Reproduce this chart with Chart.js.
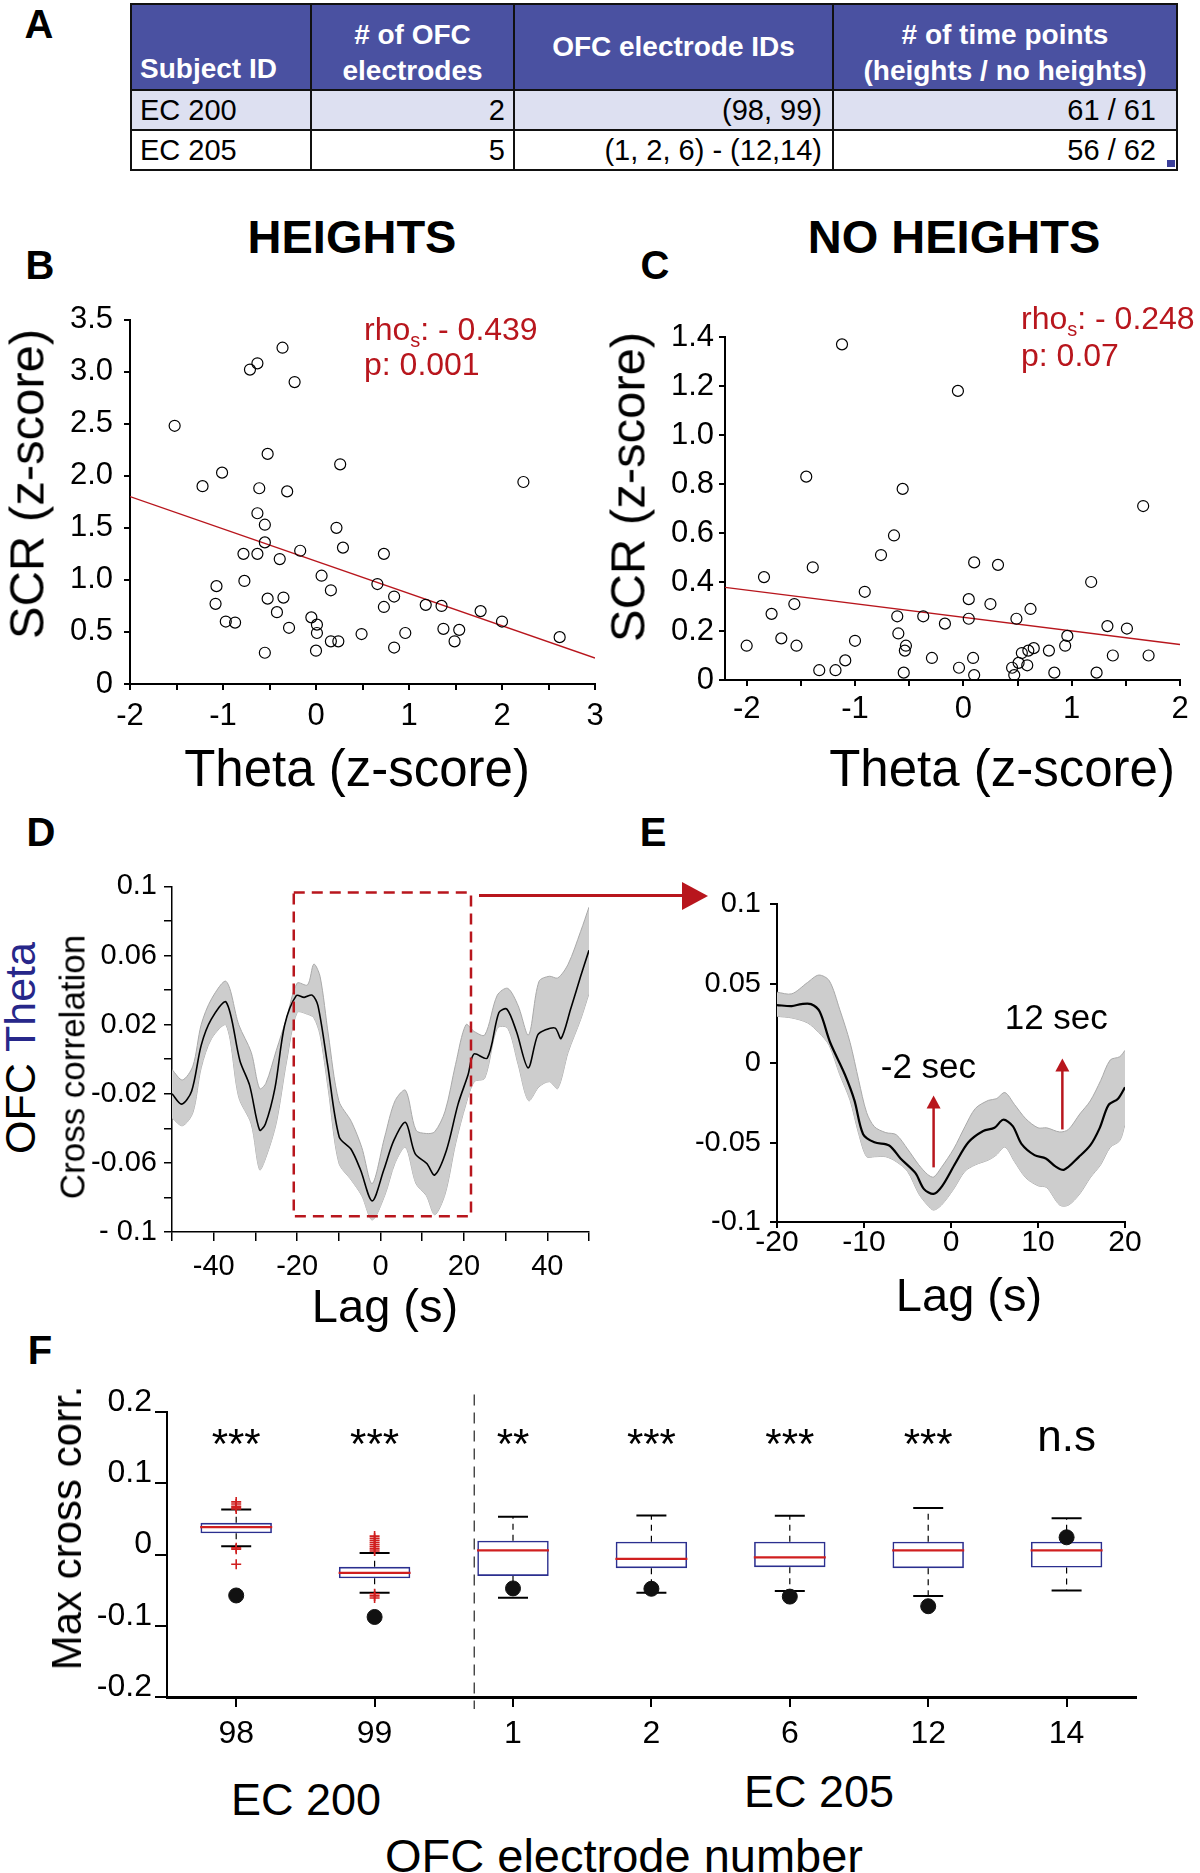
<!DOCTYPE html>
<html>
<head>
<meta charset="utf-8">
<title>OFC theta vs SCR</title>
<script src="https://cdn.jsdelivr.net/npm/chart.js@4.4.1/dist/chart.umd.min.js"></script>
<style>
  body { margin: 0; background: #fff; font-family: "Liberation Sans", Arial, Helvetica, sans-serif; color: #000; }
  #page { position: relative; width: 1200px; height: 1873px; overflow: hidden; }
  .panel { position: absolute; }
  .txt { position: absolute; white-space: nowrap; transform: translate(-50%, -50%); line-height: 1; }
  .txt.left { transform: translate(0, -50%); }
  .txt.vert { transform: translate(-50%, -50%) rotate(-90deg); }
  .letter { font-weight: bold; font-size: 40px; }
  .head { font-weight: bold; font-size: 47px; }
  .stat { color: #b8161d; font-size: 32px; }
  .stat sub { font-size: 20px; vertical-align: -7px; line-height: 0; }
  #tbl { position: absolute; left: 130px; top: 3px; width: 1046px; border-collapse: collapse; table-layout: fixed; font-size: 29px; }
  #tbl th, #tbl td { border: 2px solid #111; padding: 0 8px; overflow: hidden; white-space: nowrap; }
  #tbl th { background: #4a51a1; color: #fff; font-weight: bold; font-size: 28px; line-height: 36px; height: 68px; padding-top: 12px; text-align: center; }
  #tbl td { height: 38px; text-align: right; }
  #tbl tr.r1 td { background: #dde0f1; }
  #tbl td.sid { text-align: left; }
</style>
</head>
<body>
<div id="page">

  <table id="tbl">
    <colgroup><col style="width:180px"><col style="width:203px"><col style="width:319px"><col style="width:344px"></colgroup>
    <tr>
      <th style="text-align:left;vertical-align:bottom;padding-bottom:2px">Subject ID</th>
      <th>#&nbsp;of OFC<br>electrodes</th>
      <th style="padding-top:0;vertical-align:middle">OFC electrode IDs</th>
      <th># of time points<br>(heights / no heights)</th>
    </tr>
    <tr class="r1"><td class="sid">EC 200</td><td>2</td><td style="padding-right:10px">(98, 99)</td><td style="padding-right:20px">61 / 61</td></tr>
    <tr><td class="sid">EC 205</td><td>5</td><td style="padding-right:10px">(1, 2, 6) - (12,14)</td><td style="padding-right:20px">56 / 62</td></tr>
  </table>
  <div class="panel" style="left:1167px;top:160px;width:8px;height:7px;background:#3b3f9a"></div>

  <div class="panel" id="pB"><canvas id="cB"></canvas></div>
  <div class="panel" id="pC"><canvas id="cC"></canvas></div>
  <div class="panel" id="pD"><canvas id="cD"></canvas></div>
  <div class="panel" id="pE"><canvas id="cE"></canvas></div>
  <div class="panel" id="pF"><canvas id="cF"></canvas></div>

  <div class="txt letter" style="left:39px;top:24px">A</div>
  <div class="txt letter" style="left:40px;top:265px">B</div>
  <div class="txt letter" style="left:655px;top:265px">C</div>
  <div class="txt letter" style="left:41px;top:832px">D</div>
  <div class="txt letter" style="left:653px;top:832px">E</div>
  <div class="txt letter" style="left:40px;top:1350px">F</div>

  <div class="txt head" style="left:352px;top:236px">HEIGHTS</div>
  <div class="txt head" style="left:954px;top:236px">NO HEIGHTS</div>

  <div class="txt left stat" style="left:364px;top:329px">rho<sub>s</sub>: - 0.439</div>
  <div class="txt left stat" style="left:364px;top:364px">p: 0.001</div>
  <div class="txt left stat" style="left:1021px;top:318px">rho<sub>s</sub>: - 0.248</div>
  <div class="txt left stat" style="left:1021px;top:355px">p: 0.07</div>

  <div class="txt vert" style="left:27px;top:484px;font-size:49px">SCR (z-score)</div>
  <div class="txt vert" style="left:628px;top:487px;font-size:49px">SCR (z-score)</div>
  <div class="txt" style="left:357px;top:768px;font-size:51px">Theta (z-score)</div>
  <div class="txt" style="left:1002px;top:768px;font-size:51px">Theta (z-score)</div>

  <div class="txt vert" style="left:20px;top:1048px;font-size:43px">OFC <span style="color:#27278a">Theta</span></div>
  <div class="txt vert" style="left:72px;top:1067px;font-size:35px">Cross correlation</div>
  <div class="txt" style="left:385px;top:1305px;font-size:47px">Lag (s)</div>
  <div class="txt" style="left:969px;top:1294px;font-size:47px">Lag (s)</div>

  <div class="panel" style="left:479px;top:894px;width:205px;height:3px;background:#b8161d"></div>
  <div class="panel" style="left:682px;top:882px;width:0;height:0;border-left:26px solid #b8161d;border-top:14px solid transparent;border-bottom:14px solid transparent"></div>

  <div class="txt vert" style="left:67px;top:1528px;font-size:42px">Max cross corr.</div>
  <div class="txt" style="left:306px;top:1799px;font-size:45px">EC 200</div>
  <div class="txt" style="left:819px;top:1791px;font-size:45px">EC 205</div>
  <div class="txt" style="left:624px;top:1855px;font-size:47px">OFC electrode number</div>
</div>

<script>
// --- B: heights (theta vs SCR) ---
const heightsTheta = [-1.52, -0.71, -0.63, -0.36, -0.23, -1.01, -1.22, -0.52, -0.61, -0.31, 0.26, 2.23, -0.63, -0.55, -0.55, -0.78, -0.63, -0.39, -0.17, 0.22, 0.29, 0.73, -0.77, -1.07, 0.06, 0.16, 0.66, -1.08, -0.52, -0.35, 0.84, 1.18, 1.35, 0.73, -0.42, 1.77, -0.97, -0.87, -0.05, 0.01, 2.00, -0.29, 0.01, 0.49, 0.96, 1.37, 1.54, 0.16, 0.24, 1.49, 2.62, -0.55, 0.00, 0.84];
const heightsSCR = [2.48, 3.02, 3.08, 3.23, 2.90, 2.03, 1.90, 2.21, 1.88, 1.85, 2.11, 1.94, 1.64, 1.53, 1.36, 1.25, 1.25, 1.20, 1.28, 1.50, 1.31, 1.25, 0.99, 0.94, 1.04, 0.90, 0.96, 0.77, 0.82, 0.83, 0.84, 0.76, 0.75, 0.74, 0.69, 0.70, 0.60, 0.59, 0.64, 0.57, 0.60, 0.54, 0.49, 0.48, 0.49, 0.53, 0.52, 0.41, 0.41, 0.41, 0.45, 0.30, 0.32, 0.35];
const heightsFitX = [-2, 3];
const heightsFitY = [1.80, 0.25];

// --- C: no heights ---
const noHeightsTheta = [-1.12, -0.05, -1.45, -0.56, 1.66, -0.64, -0.76, 0.10, 0.32, -1.39, -1.84, 1.18, -0.91, 0.05, 0.25, -1.56, 0.62, -1.77, -0.61, -0.37, 0.05, 0.49, -0.17, 1.33, 1.51, 0.96, -0.60, -1.68, -1.00, -2.00, -1.54, -0.53, -0.54, 0.94, 0.65, 0.60, 0.54, 0.79, 1.38, 1.71, -0.29, 0.09, -1.09, -1.18, -1.33, -0.04, 0.51, 0.45, 0.59, -0.55, 0.10, 0.47, 0.84, 1.23];
const noHeightsSCR = [1.37, 1.18, 0.83, 0.78, 0.71, 0.59, 0.51, 0.48, 0.47, 0.46, 0.42, 0.40, 0.36, 0.33, 0.31, 0.31, 0.29, 0.27, 0.26, 0.26, 0.25, 0.25, 0.23, 0.22, 0.21, 0.18, 0.19, 0.17, 0.16, 0.14, 0.14, 0.14, 0.12, 0.14, 0.13, 0.12, 0.11, 0.12, 0.10, 0.10, 0.09, 0.09, 0.08, 0.04, 0.04, 0.05, 0.07, 0.05, 0.06, 0.03, 0.02, 0.02, 0.03, 0.03];
const noHeightsFitX = [-2.2, 2];
const noHeightsFitY = [0.378, 0.145];

// --- D: full cross correlation, mean and SEM band ---
const lagD = [-50, -47.7, -45.3, -43, -40.6, -37, -33.7, -31.4, -29, -27.6, -25.3, -23, -20.2, -18.3, -16.4, -15, -12.7, -9.9, -7.1, -4.8, -2, 0.8, 3.2, 6, 8.3, 11.1, 13, 15.8, 18.6, 21, 22.4, 25.6, 28.4, 30.3, 32.6, 35.4, 37.7, 39.6, 41.9, 43.3, 45.6, 48, 50];
const xcorrD = [-0.020, -0.026, -0.0185, 0.008, 0.023, 0.033, -0.001, -0.015, -0.041, -0.0375, -0.0166, 0.0196, 0.0368, 0.0358, 0.0371, 0.031, -0.003, -0.045, -0.052, -0.064, -0.082, -0.064, -0.047, -0.0366, -0.0547, -0.0604, -0.067, -0.0528, -0.026, -0.009, 0.003, 0.0006, 0.027, 0.029, 0.016, -0.005, 0.014, 0.017, 0.018, 0.012, 0.029, 0.048, 0.063];
const lagBandD = [-50, -47.5, -45, -43, -40.5, -37, -34, -31, -29, -27.5, -25, -22.5, -20, -17.5, -16, -14.5, -12.5, -10, -7, -4.5, -2, 1, 3.5, 6, 8.5, 11, 13, 15.5, 18, 20.5, 22.5, 25, 28, 30.5, 33, 35.5, 38, 40.5, 42.5, 45, 48, 50];
const upperD = [-0.006, -0.012, -0.004, 0.020, 0.035, 0.045, 0.020, 0.004, -0.017, -0.014, 0.005, 0.024, 0.044, 0.043, 0.055, 0.048, 0.014, -0.024, -0.036, -0.051, -0.072, -0.045, -0.024, -0.018, -0.041, -0.043, -0.042, -0.030, -0.003, 0.020, 0.016, 0.014, 0.037, 0.041, 0.031, 0.014, 0.045, 0.048, 0.047, 0.055, 0.074, 0.088];
const lowerD = [-0.034, -0.0385, -0.031, -0.005, 0.012, 0.0196, -0.022, -0.0375, -0.064, -0.057, -0.037, -0.001, 0.027, 0.026, 0.024, 0.014, -0.018, -0.060, -0.070, -0.079, -0.093, -0.079, -0.060, -0.051, -0.072, -0.079, -0.090, -0.078, -0.049, -0.026, -0.013, -0.011, 0.018, 0.018, -0.003, -0.024, -0.016, -0.013, -0.017, 0.004, 0.023, 0.038];
const zoomBoxLag = [-20.8, 21.7, 21.7, -20.8, -20.8];
const zoomBoxVal = [0.0964, 0.0964, -0.0909, -0.0909, 0.0964];

// --- E: zoom -20..20 s ---
const lagE = [-20, -18.3, -17.2, -16.1, -15.1, -13.9, -12.2, -11.1, -10.1, -8.8, -7.1, -5.8, -4.1, -3.1, -2, -1, 0.5, 2, 3.7, 5, 6, 7.1, 8.1, 9.6, 10.9, 12, 13, 14.7, 16, 17.1, 18.1, 19.2, 20];
const xcorrE = [0.0366, 0.036, 0.0372, 0.0372, 0.0325, 0.0132, -0.0071, -0.0234, -0.0447, -0.0498, -0.0518, -0.06, -0.0691, -0.0793, -0.0823, -0.0772, -0.063, -0.0498, -0.0427, -0.0407, -0.0356, -0.0396, -0.0508, -0.0579, -0.06, -0.065, -0.0671, -0.059, -0.0518, -0.0407, -0.0264, -0.0224, -0.0152];
const lagBandE = [-20, -18.3, -16.5, -15.2, -14, -12.8, -11.6, -10.6, -9.7, -8.8, -7.5, -6.3, -5, -3.7, -2.7, -2, -1.1, 0.3, 1.6, 2.8, 4.3, 5.2, 6.2, 7.3, 8.6, 10, 11, 12.5, 13.5, 14.8, 16, 17.2, 18.3, 19.4, 20];
const upperE = [0.0447, 0.0437, 0.0508, 0.0555, 0.052, 0.034, 0.013, -0.011, -0.031, -0.040, -0.0437, -0.045, -0.054, -0.064, -0.070, -0.0717, -0.0656, -0.054, -0.040, -0.0285, -0.0234, -0.0224, -0.0185, -0.026, -0.035, -0.0407, -0.0407, -0.0433, -0.0417, -0.032, -0.0238, -0.011, 0.002, 0.0041, 0.0081];
const lowerE = [0.0295, 0.0285, 0.0254, 0.0193, 0.0112, -0.007, -0.0234, -0.0447, -0.0589, -0.0589, -0.0589, -0.062, -0.0681, -0.0823, -0.0894, -0.0925, -0.0894, -0.0793, -0.0681, -0.064, -0.061, -0.0579, -0.0528, -0.062, -0.0722, -0.0772, -0.0783, -0.0894, -0.0894, -0.0823, -0.0722, -0.064, -0.053, -0.0488, -0.0386];
const arrowLag = [-2, 12.8];
const arrowFrom = [-0.0656, -0.0417];
const arrowTo = [-0.0203, 0.0030];
const noteText = ['-2 sec', '12 sec'];
const noteLag = [-2.6, 12.1];
const noteVal = [-0.003, 0.0274];

// --- F: max cross correlation per electrode ---
const electrodes = ['98', '99', '1', '2', '6', '12', '14'];
const boxQ1 = [0.030, -0.0333, -0.030, -0.0191, -0.0177, -0.0191, -0.0182];
const boxQ3 = [0.0446, -0.0172, 0.0196, 0.0182, 0.0182, 0.0182, 0.0182];
const boxMed = [0.0385, -0.0257, 0.0059, -0.006, -0.004, 0.0059, 0.006];
const whiskHi = [0.0635, 0.0021, 0.0531, 0.055, 0.0545, 0.0654, 0.0512];
const whiskLo = [0.0116, -0.0536, -0.0607, -0.0536, -0.0512, -0.0583, -0.0503];
const observed = [-0.0574, -0.0876, -0.0475, -0.048, -0.059, -0.0725, 0.0243];
const outlierElec = ['98', '98', '98', '98', '98', '98', '98', '98', '99', '99', '99', '99', '99', '99', '99', '99', '99', '99', '99'];
const outlierVal = [0.064, 0.066, 0.068, 0.071, 0.074, 0.0095, 0.0075, -0.0135, 0.005, 0.008, 0.011, 0.014, 0.017, 0.020, 0.023, 0.026, -0.055, -0.058, -0.061];
const sigLabels = ['***', '***', '**', '***', '***', '***', 'n.s'];
const sigLevel = 0.159;
const subjectSplit = 2.56;
const splitRange = [0.225, -0.217];

// --- tick values / labels ---
const bXTicks = [-2, -1.5, -1, -0.5, 0, 0.5, 1, 1.5, 2, 2.5, 3];
const bYTicks = [0, 0.5, 1, 1.5, 2, 2.5, 3, 3.5];
const cXTicks = [-2, -1.5, -1, -0.5, 0, 0.5, 1, 1.5, 2];
const cYTicks = [0, 0.2, 0.4, 0.6, 0.8, 1, 1.2, 1.4];
const dXTicks = [-50, -40, -30, -20, -10, 0, 10, 20, 30, 40, 50];
const dXLabels = ['', '-40', '', '-20', '', '0', '', '20', '', '40', ''];
const dYTicks = [-0.1, -0.08, -0.06, -0.04, -0.02, 0, 0.02, 0.04, 0.06, 0.08, 0.1];
const dYLabels = ['- 0.1', '', '-0.06', '', '-0.02', '', '0.02', '', '0.06', '', '0.1'];
const eXTicks = [-20, -10, 0, 10, 20];
const eYTicks = [-0.1, -0.05, 0, 0.05, 0.1];
const eYLabels = ['-0.1', '-0.05', '0', '0.05', '0.1'];
const fYTicks = [-0.2, -0.1, 0, 0.1, 0.2];
const fYLabels = ['-0.2', '-0.1', '0', '0.1', '0.2'];

const RED = '#b8161d';
const BOXRED = '#d01f1f';
const NAVY = '#2b2f8f';

Chart.defaults.font.family = '"Liberation Sans", Arial, Helvetica, sans-serif';
Chart.defaults.color = '#000';
Chart.defaults.animation = false;
Chart.defaults.plugins.legend.display = false;
Chart.defaults.plugins.tooltip.enabled = false;

const zip = (xs, ys) => xs.map((x, i) => ({ x: x, y: ys[i] }));

// put the canvas box so that the plot area lands on [l,r]x[t,b]
function frame(id, l, t, r, b, yW, xH, padT, padR) {
  const el = document.getElementById(id);
  el.style.left = (l - yW) + 'px';
  el.style.top = (t - padT) + 'px';
  el.style.width = (yW + (r - l) + padR) + 'px';
  el.style.height = (padT + (b - t) + xH) + 'px';
  return { padding: { top: padT, right: padR, left: 0, bottom: 0 } };
}

function linAxis(min, max, ticks, fmt, o) {
  return {
    type: 'linear', min: min, max: max,
    afterBuildTicks: s => { s.ticks = ticks.map(v => ({ value: v })); },
    afterFit: s => { if (s.isHorizontal()) s.height = o.fit; else s.width = o.fit; },
    grid: { drawOnChartArea: false, drawTicks: true, tickLength: o.tick, color: '#000', lineWidth: o.lw || 2 },
    border: { color: '#000', width: o.lw || 2 },
    ticks: { autoSkip: false, maxRotation: 0, color: '#000', font: { size: o.size }, padding: o.pad, labelOffset: o.shift || 0, callback: fmt }
  };
}

// text and arrows placed in data units
const annotate = {
  id: 'annotate',
  afterDatasetsDraw(chart, args, opts) {
    const ctx = chart.ctx, xs = chart.scales.x, ys = chart.scales.y;
    ctx.save();
    (opts.texts || []).forEach(t => {
      ctx.font = t.font;
      ctx.fillStyle = t.color || '#000';
      ctx.textAlign = 'center';
      ctx.textBaseline = 'middle';
      ctx.fillText(t.text, xs.getPixelForValue(t.x), ys.getPixelForValue(t.y) + (t.dy || 0));
    });
    (opts.arrows || []).forEach(a => {
      const px = xs.getPixelForValue(a.x);
      const y0 = ys.getPixelForValue(a.from), y1 = ys.getPixelForValue(a.to);
      ctx.strokeStyle = ctx.fillStyle = a.color;
      ctx.lineWidth = 2.5;
      ctx.beginPath(); ctx.moveTo(px, y0); ctx.lineTo(px, y1 + 10); ctx.stroke();
      ctx.beginPath(); ctx.moveTo(px, y1); ctx.lineTo(px - 7, y1 + 13); ctx.lineTo(px + 7, y1 + 13); ctx.closePath(); ctx.fill();
    });
    ctx.restore();
  }
};

const oneDec = v => (v === 0 ? '0' : v.toFixed(1));
const intOnly = v => (Number.isInteger(v) ? String(v) : '');

function scatterPanel(canvas, layout, xs, ys, fitX, fitY, xAxis, yAxis) {
  return new Chart(document.getElementById(canvas), {
    type: 'scatter',
    data: {
      datasets: [
        { data: zip(xs, ys), pointRadius: 5.5, pointBorderWidth: 1.2, pointBorderColor: '#000', pointBackgroundColor: 'rgba(255,255,255,0)' },
        { type: 'line', data: zip(fitX, fitY), borderColor: RED, borderWidth: 1.4, pointRadius: 0 }
      ]
    },
    options: { responsive: true, maintainAspectRatio: false, layout: layout, scales: { x: xAxis, y: yAxis } }
  });
}

// B
scatterPanel('cB', frame('pB', 130, 315, 595, 684, 110, 60, 25, 25), heightsTheta, heightsSCR, heightsFitX, heightsFitY,
  linAxis(-2, 3, bXTicks, intOnly, { fit: 60, tick: 6, size: 31, pad: 8 }),
  linAxis(0, 3.5, bYTicks, oneDec, { fit: 110, tick: 6, size: 31, pad: 11 }));

// C
scatterPanel('cC', frame('pC', 725, 337, 1180, 680, 105, 60, 25, 20), noHeightsTheta, noHeightsSCR, noHeightsFitX, noHeightsFitY,
  linAxis(-2.2, 2, cXTicks, intOnly, { fit: 60, tick: 6, size: 31, pad: 5 }),
  linAxis(0, 1.4, cYTicks, oneDec, { fit: 105, tick: 6, size: 31, pad: 5 }));

// D
new Chart(document.getElementById('cD'), {
  type: 'line',
  data: {
    datasets: [
      { data: zip(zoomBoxLag, zoomBoxVal), borderColor: RED, borderWidth: 2.5, borderDash: [11, 7], pointRadius: 0, clip: false },
      { data: zip(lagD, xcorrD), borderColor: '#000', borderWidth: 1.6, pointRadius: 0, tension: 0.3 },
      { data: zip(lagBandD, upperD), borderColor: '#a9a9a9', borderWidth: 1, backgroundColor: '#cdcdcd', fill: '+1', pointRadius: 0, tension: 0.3 },
      { data: zip(lagBandD, lowerD), borderColor: '#a9a9a9', borderWidth: 1, fill: false, pointRadius: 0, tension: 0.3 }
    ]
  },
  options: {
    responsive: true, maintainAspectRatio: false,
    layout: frame('pD', 172, 882, 589, 1232, 110, 55, 20, 20),
    scales: {
      x: linAxis(-50, 50, dXTicks, (v, i) => dXLabels[i], { fit: 55, tick: 9, size: 29, pad: 9, lw: 1.5 }),
      y: linAxis(-0.1, 0.1, dYTicks, (v, i) => dYLabels[i], { fit: 110, tick: 8, size: 29, pad: 7, lw: 1.5 })
    }
  }
});

// E
new Chart(document.getElementById('cE'), {
  type: 'line',
  data: {
    datasets: [
      { data: zip(lagE, xcorrE), borderColor: '#000', borderWidth: 2.2, pointRadius: 0, tension: 0.3 },
      { data: zip(lagBandE, upperE), borderColor: '#a9a9a9', borderWidth: 1, backgroundColor: '#cdcdcd', fill: '+1', pointRadius: 0, tension: 0.3 },
      { data: zip(lagBandE, lowerE), borderColor: '#a9a9a9', borderWidth: 1, fill: false, pointRadius: 0, tension: 0.3 }
    ]
  },
  options: {
    responsive: true, maintainAspectRatio: false,
    layout: frame('pE', 777, 898, 1125, 1222, 105, 50, 20, 30),
    scales: {
      x: linAxis(-20, 20, eXTicks, v => String(v), { fit: 50, tick: 6, size: 30, pad: -3 }),
      y: linAxis(-0.1, 0.1, eYTicks, (v, i) => eYLabels[i], { fit: 105, tick: 7, size: 29, pad: 9 })
    },
    plugins: {
      annotate: {
        texts: noteText.map((t, i) => ({ text: t, x: noteLag[i], y: noteVal[i], font: '35px "Liberation Sans", Arial, sans-serif' })),
        arrows: arrowLag.map((x, i) => ({ x: x, from: arrowFrom[i], to: arrowTo[i], color: RED }))
      }
    }
  },
  plugins: [annotate]
});

// F
const whiskerPts = [];
const capPts = [];
electrodes.forEach((e, i) => {
  whiskerPts.push({ x: e, y: boxQ3[i] }, { x: e, y: whiskHi[i] }, { x: e, y: null },
                  { x: e, y: boxQ1[i] }, { x: e, y: whiskLo[i] }, { x: e, y: null });
  capPts.push({ x: e, y: whiskHi[i] }, { x: e, y: whiskLo[i] });
});

new Chart(document.getElementById('cF'), {
  type: 'bar',
  data: {
    labels: electrodes,
    datasets: [
      { type: 'line', showLine: false, data: zip(electrodes, observed), pointRadius: 7.5, pointBackgroundColor: '#111', pointBorderColor: '#111' },
      { type: 'line', showLine: false, data: zip(electrodes, boxMed), pointStyle: 'line', pointRadius: 36, pointBorderColor: BOXRED, pointBorderWidth: 2.2 },
      { type: 'line', showLine: false, data: zip(outlierElec, outlierVal), pointStyle: 'cross', pointRadius: 5, pointBorderColor: BOXRED, pointBorderWidth: 1.6 },
      { type: 'line', showLine: false, data: capPts, pointStyle: 'line', pointRadius: 15, pointBorderColor: '#000', pointBorderWidth: 2 },
      { type: 'line', data: whiskerPts, borderColor: '#000', borderWidth: 1.2, borderDash: [6, 5], pointRadius: 0, spanGaps: false },
      { data: electrodes.map((e, i) => [boxQ1[i], boxQ3[i]]), backgroundColor: 'rgba(255,255,255,0)', borderColor: NAVY, borderWidth: 1.6, borderSkipped: false, grouped: false, barPercentage: 0.516, categoryPercentage: 1 },
      { type: 'line', xAxisID: 'x2', data: [{ x: subjectSplit, y: splitRange[0] }, { x: subjectSplit, y: splitRange[1] }], borderColor: '#333', borderWidth: 1.3, borderDash: [11, 7], pointRadius: 0, clip: false }
    ]
  },
  options: {
    responsive: true, maintainAspectRatio: false,
    layout: frame('pF', 167, 1409, 1154, 1697, 100, 60, 35, 20),
    scales: {
      x: {
        type: 'category', offset: true,
        afterFit: s => { s.height = 60; },
        grid: { offset: false, drawOnChartArea: false, drawTicks: true, tickLength: 10, color: '#000', lineWidth: 2 },
        border: { color: '#000', width: 3 },
        ticks: { color: '#000', font: { size: 32 }, padding: 8, maxRotation: 0 }
      },
      x2: { type: 'linear', min: 0.5, max: 7.5, display: false },
      y: linAxis(-0.2, 0.2, fYTicks, (v, i) => fYLabels[i], { fit: 100, tick: 12, size: 32, pad: 3, shift: -10 })
    },
    plugins: {
      annotate: {
        texts: sigLabels.map((t, i) => ({
          text: t, x: i, y: sigLevel,
          font: (t === 'n.s' ? '44px' : '42px') + ' "Liberation Sans", Arial, sans-serif',
          dy: t === 'n.s' ? -3 : 5
        }))
      }
    }
  },
  plugins: [annotate]
});
</script>
</body>
</html>
